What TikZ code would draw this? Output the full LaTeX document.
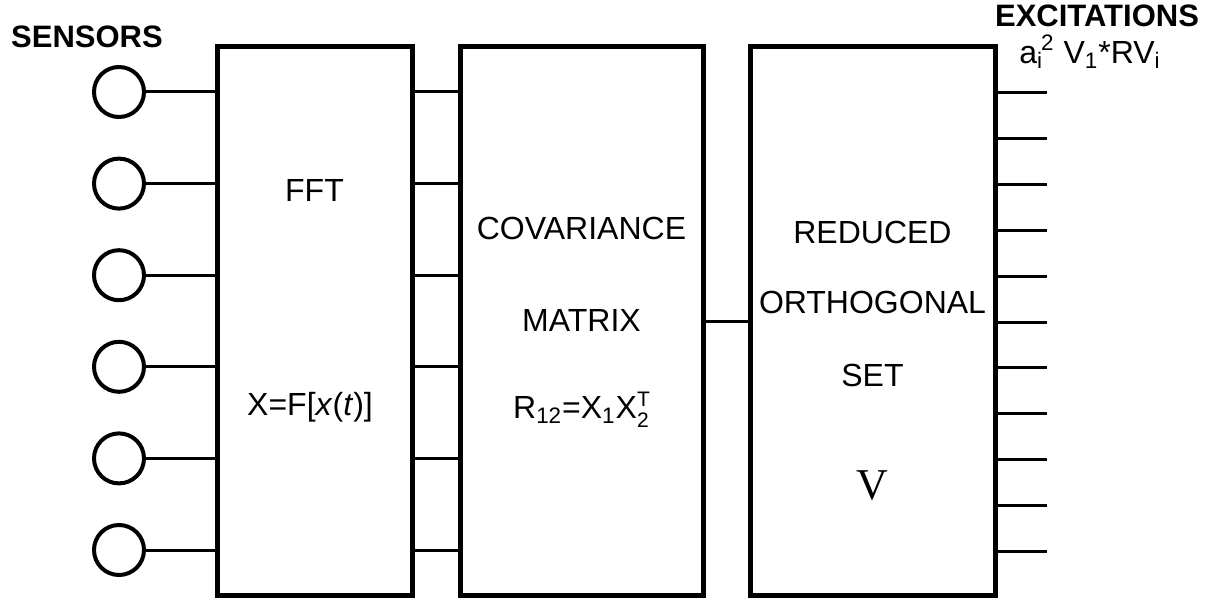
\documentclass[tikz,border=0pt]{standalone}
\usepackage{fontspec}
\setmainfont{Liberation Sans}
\newfontfamily\vfont{Liberation Serif}
\tikzset{sc/.style={x=.5pt,y=-.5pt,line width=1.5pt,font=\fontsize{16}{18}\selectfont},
  blk/.style={draw,line width=2.5pt,inner sep=0pt,outer sep=0pt,minimum width=#1,minimum height=274pt},
  sens/.style={draw,circle,line width=2pt,minimum size=25pt,inner sep=0pt,outer sep=0pt},
  hd/.style={font=\fontsize{15.5}{17}\bfseries\selectfont}}
\newcommand\stk[2]{\raisebox{-.55ex}{\fontsize{10.5}{10.5}\selectfont\shortstack[l]{#1\\#2}}}

\begin{document}
\begin{tikzpicture}[sc]
  \useasboundingbox (0,0) rectangle (1217,599);
  % the three stages
  \node[blk=97.5pt] (fft) at (314.5,321) {};
  \node[blk=121.5pt] (cov) at (581.5,321) {};
  \node[blk=122.5pt] (ros) at (872.5,321) {};
  \draw (cov.east) -- (ros.west);
  % sensors in, excitations out
  \foreach \i in {0,...,5}{
    \node[sens] (s\i) at (119,92+91.6*\i) {};
    \draw (s\i) -- (s\i -| fft.west);
    \draw (s\i -| fft.east) -- (s\i -| cov.west);}
  \foreach \i in {0,...,10}{\coordinate (o\i) at (1047,93+45.8*\i);\draw (o\i -| ros.east) -- (o\i);}
  \node[hd,anchor=west] (sensors) at (3,37) {SENSORS};
  \node[hd] (exc) at (1097,16) {EXCITATIONS};
  \node (exclbl) at (1090,52) {a\textsubscript{i}\kern-1pt\textsuperscript{2} V\textsubscript{1}*RV\textsubscript{i}};
  \node (ffttxt) at (314.5,190) {FFT};
  \node (fftfml) at (310,407) {X=F[\textit{x}(\textit{t})]};
  \node (covtxt) at (581.5,228) {COVARIANCE};
  \node (covtxt2) at (581.5,320) {MATRIX};
  \node (covfml) at (581.5,410) {R\textsubscript{12}=X\textsubscript{1}X\stk{T}{2}};
  \node (rostxt) at (872.5,232) {REDUCED};
  \node (rostxt2) at (872.5,302) {ORTHOGONAL};
  \node (rostxt3) at (872.5,375) {SET};
  \node[font=\vfont\fontsize{22}{24}\selectfont] (rosv) at (872.5,485) {V};
\end{tikzpicture}
\end{document}
